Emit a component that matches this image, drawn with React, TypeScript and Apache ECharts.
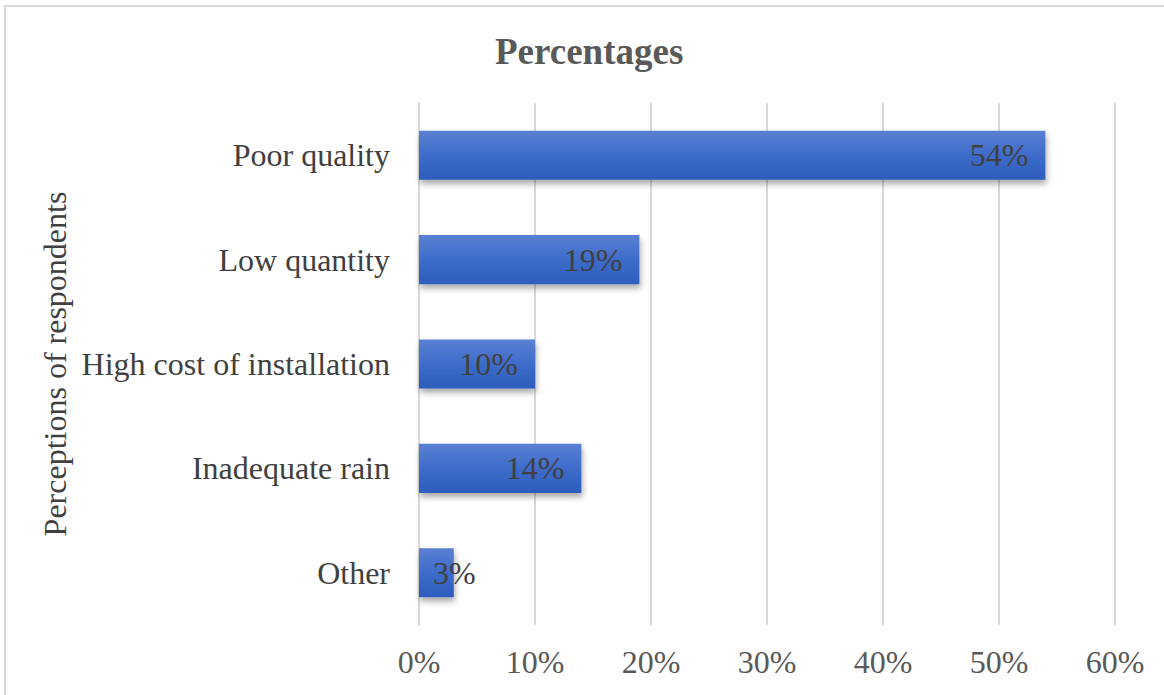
import React, { useEffect, useRef } from "react";
import * as echarts from "echarts";

const categories = ["Poor quality", "Low quantity", "High cost of installation", "Inadequate rain", "Other"];
const values = [54, 19, 10, 14, 3];
const xTicks = [0, 10, 20, 30, 40, 50, 60];

export default function App() {
  const ref = useRef<HTMLDivElement>(null);
  useEffect(() => {
    const chart = echarts.init(ref.current!, null, { renderer: "svg" });
    const font = "Liberation Serif";
    chart.setOption({
      animation: false,
      backgroundColor: "#ffffff",
      textStyle: { fontFamily: font },
      title: {
        text: "Percentages",
        left: 490,
        top: 28,
        textStyle: { fontFamily: font, fontSize: 37, fontWeight: "bold", color: "#595959" },
      },
      graphic: [
        {
          type: "rect",
          shape: { x: 5, y: 6, width: 1200, height: 720 },
          style: { fill: "none", stroke: "#d9d9d9", lineWidth: 2 },
          silent: true,
        },
      ],
      grid: { left: 419, right: 49, top: 103, bottom: 70 },
      xAxis: {
        type: "value",
        min: xTicks[0],
        max: xTicks[xTicks.length - 1],
        interval: 10,
        axisLine: { show: false },
        axisTick: { show: false },
        splitLine: { lineStyle: { color: "#d9d9d9", width: 2 } },
        axisLabel: {
          formatter: (v: number) => v + "%",
          fontFamily: font,
          fontSize: 32,
          color: "#595959",
          margin: 21,
        },
      },
      yAxis: {
        type: "category",
        data: categories,
        inverse: true,
        axisLine: { show: true, lineStyle: { color: "#d9d9d9", width: 2 } },
        axisTick: { show: false },
        axisLabel: { fontFamily: font, fontSize: 32, color: "#404040", margin: 29 },
        name: "Perceptions of respondents",
        nameLocation: "middle",
        nameGap: 341,
        nameRotate: 90,
        nameTextStyle: { fontFamily: font, fontSize: 32, color: "#404040" },
      },
      series: [
        {
          type: "bar",
          barWidth: "47%",
          data: values.map((v) => ({
            value: v,
            label:
              v < 5
                ? { position: "insideLeft", distance: 14 }
                : { position: "insideRight", distance: 17 },
          })),
          itemStyle: {
            color: new echarts.graphic.LinearGradient(0, 0, 0, 1, [
              { offset: 0, color: "#5a80d2" },
              { offset: 0.5, color: "#3d6cca" },
              { offset: 1, color: "#2e5dbd" },
            ]),
            shadowColor: "rgba(0,0,0,0.35)",
            shadowBlur: 6,
            shadowOffsetX: 1,
            shadowOffsetY: 4,
          },
          label: {
            show: true,
            formatter: "{c}%",
            fontFamily: font,
            fontSize: 32,
            color: "#404040",
          },
        },
      ],
    });
    return () => chart.dispose();
  }, []);
  return (
    <div
      ref={ref}
      style={{ position: "fixed", left: 0, top: 0, width: 1164, height: 695 }}
    />
  );
}
